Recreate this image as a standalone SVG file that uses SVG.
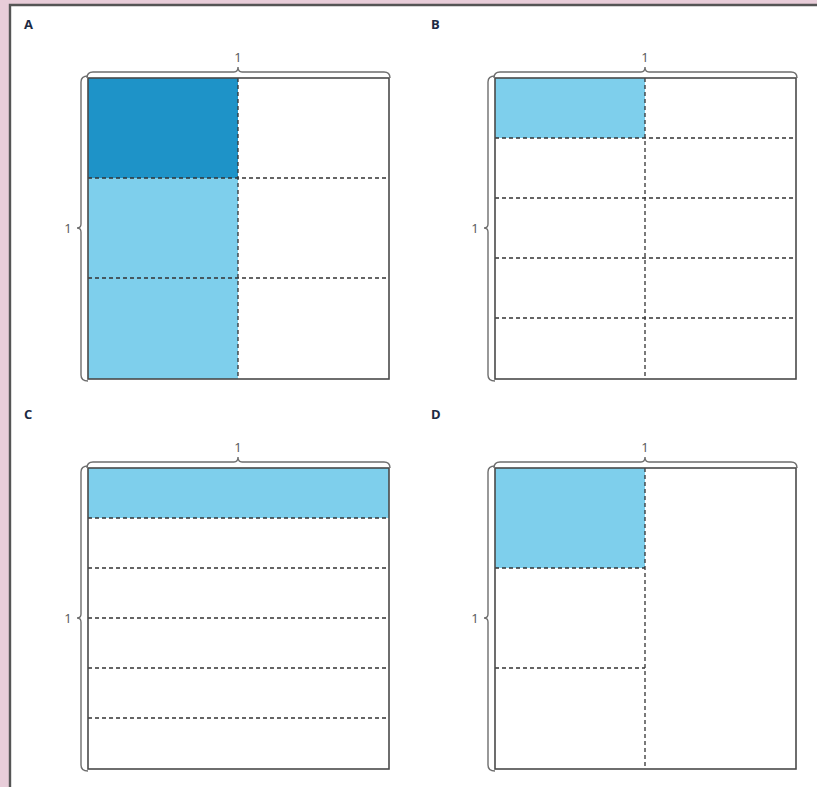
<svg xmlns="http://www.w3.org/2000/svg" width="817" height="787" viewBox="0 0 817 787">
<style>
.sq{fill:none;stroke:#4a4a4a;stroke-width:1.6}
.dash{stroke:#333;stroke-width:1.3;stroke-dasharray:4 3;fill:none}
.br{fill:none;stroke:#6e6e6e;stroke-width:1.4}
.dk{fill:#1e93c8}
.lt{fill:#7ecfec}
.lbl{font-family:"Open Sans","Liberation Sans",sans-serif;font-weight:bold;font-size:13px;fill:#1c2a44}
.num{font-family:"Open Sans","Liberation Sans",sans-serif;font-size:13px;fill:#555}
</style>
<rect x="0" y="0" width="817" height="787" fill="#e8cdd9"/>
<rect x="10" y="5" width="807" height="782" fill="#ffffff"/>
<path d="M10 787 V5 H817" fill="none" stroke="#555" stroke-width="2.4"/>

<g id="A">
<rect class="dk" x="88" y="78" width="150" height="100"/>
<rect class="lt" x="88" y="178" width="150" height="201"/>
<path class="dash" d="M238 78 V379 M88 178 H389 M88 278 H389"/>
<rect class="sq" x="88" y="78" width="301" height="301"/>
<path class="br" d="M87 78 Q87 72 93 72 H234 Q238 72 238 67 Q238 72 242 72 H384 Q390 72 390 78"/>
<path class="br" d="M88 76 Q81 76 81 82 V224 Q81 228 77 228 Q81 228 81 232 V375 Q81 381 88 381"/>
<text class="lbl" x="24" y="29">A</text>
<text class="num" x="238" y="62" text-anchor="middle">1</text>
<text class="num" x="68" y="233" text-anchor="middle">1</text>
</g>

<g id="B">
<rect class="lt" x="495" y="78" width="150" height="60"/>
<path class="dash" d="M645 78 V379 M495 138 H796 M495 198 H796 M495 258 H796 M495 318 H796"/>
<rect class="sq" x="495" y="78" width="301" height="301"/>
<path class="br" d="M494 78 Q494 72 500 72 H641 Q645 72 645 67 Q645 72 649 72 H791 Q797 72 797 78"/>
<path class="br" d="M495 76 Q488 76 488 82 V224 Q488 228 484 228 Q488 228 488 232 V375 Q488 381 495 381"/>
<text class="lbl" x="431" y="29">B</text>
<text class="num" x="645" y="62" text-anchor="middle">1</text>
<text class="num" x="475" y="233" text-anchor="middle">1</text>
</g>

<g id="C">
<rect class="lt" x="88" y="468" width="301" height="50"/>
<path class="dash" d="M88 518 H389 M88 568 H389 M88 618 H389 M88 668 H389 M88 718 H389"/>
<rect class="sq" x="88" y="468" width="301" height="301"/>
<path class="br" d="M87 468 Q87 462 93 462 H234 Q238 462 238 457 Q238 462 242 462 H384 Q390 462 390 468"/>
<path class="br" d="M88 466 Q81 466 81 472 V614 Q81 618 77 618 Q81 618 81 622 V765 Q81 771 88 771"/>
<text class="lbl" x="24" y="419">C</text>
<text class="num" x="238" y="452" text-anchor="middle">1</text>
<text class="num" x="68" y="623" text-anchor="middle">1</text>
</g>

<g id="D">
<rect class="lt" x="495" y="468" width="150" height="100"/>
<path class="dash" d="M645 468 V769 M495 568 H645 M495 668 H645"/>
<rect class="sq" x="495" y="468" width="301" height="301"/>
<path class="br" d="M494 468 Q494 462 500 462 H641 Q645 462 645 457 Q645 462 649 462 H791 Q797 462 797 468"/>
<path class="br" d="M495 466 Q488 466 488 472 V614 Q488 618 484 618 Q488 618 488 622 V765 Q488 771 495 771"/>
<text class="lbl" x="431" y="419">D</text>
<text class="num" x="645" y="452" text-anchor="middle">1</text>
<text class="num" x="475" y="623" text-anchor="middle">1</text>
</g>
</svg>
